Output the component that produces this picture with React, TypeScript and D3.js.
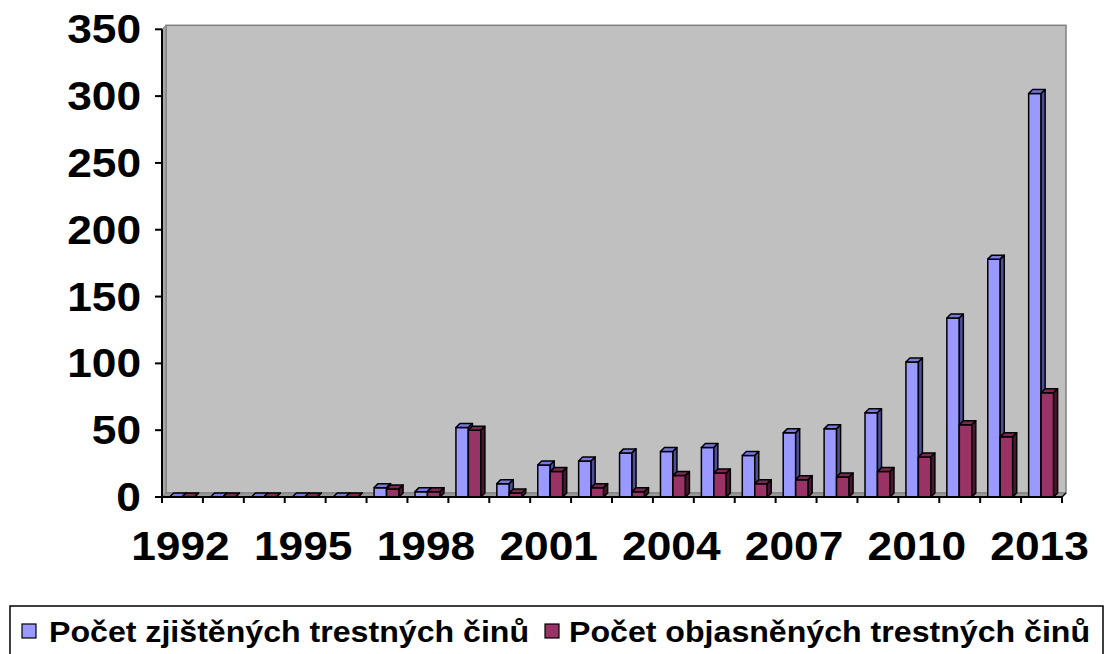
import React from "react";
import * as d3 from "d3";

// years on the x axis
const years = d3.range(1992, 2014).map(String);
const labelYears = ["1992", "1995", "1998", "2001", "2004", "2007", "2010", "2013"];
const yTicks = [0, 50, 100, 150, 200, 250, 300, 350];

// Počet zjištěných trestných činů
const detected = [0, 0, 0, 0, 0, 7, 4, 52, 10, 24, 27, 33, 34, 37, 31, 48, 51, 63, 101, 134, 178, 302];
// Počet objasněných trestných činů
const solved = [0, 0, 0, 0, 0, 6, 4, 50, 3, 19, 7, 4, 16, 18, 10, 13, 15, 19, 30, 54, 45, 78];

const seriesNames = ["Počet zjištěných trestných činů", "Počet objasněných trestných činů"];

const font = "'Liberation Sans', Arial, sans-serif";
const SX = 1.08; // text in the reference is a bit wider than plain Arial

const App = () => {
  const width = 1105;
  const height = 654;
  const left = 162;
  const right = 1062;
  const top = 29.3;
  const bottom = 497;
  const dx = 4;
  const dy = 4;

  const x = d3.scaleBand().domain(years).range([left, right]).paddingInner(0).paddingOuter(0);
  const y = d3.scaleLinear().domain([0, 350]).range([bottom, top]);
  const cw = x.bandwidth();
  const gap = cw * 0.185;
  const bw = cw * 0.305;

  const series = [
    { values: detected, front: "#9999FF", top: "#7A7ADB", side: "#4F4F99" },
    { values: solved, front: "#993366", top: "#7A2952", side: "#4A1631" },
  ];

  const bar = (x0: number, v: number, s: typeof series[0], key: string) => {
    const yt = y(v);
    const x1 = x0 + bw;
    return (
      <g key={key} stroke="#000" strokeWidth={1.5} strokeLinejoin="round">
        <rect x={x0} y={yt} width={bw} height={bottom - yt} fill={s.front} />
        <polygon
          points={`${x0},${yt} ${x0 + dx},${yt - dy} ${x1 + dx},${yt - dy} ${x1},${yt}`}
          fill={s.top}
        />
        <polygon
          points={`${x1},${yt} ${x1 + dx},${yt - dy} ${x1 + dx},${bottom - dy} ${x1},${bottom}`}
          fill={s.side}
        />
      </g>
    );
  };

  return (
    <svg width={width} height={height} style={{ position: "absolute", left: 0, top: 0, background: "#fff" }}>
      {/* back wall */}
      <rect x={left + dx} y={top - dy} width={right - left} height={bottom - top} fill="#C0C0C0" stroke="#808080" strokeWidth={1.5} />
      {/* side wall */}
      <polygon
        points={`${left},${bottom} ${left},${top} ${left + dx},${top - dy} ${left + dx},${bottom - dy}`}
        fill="#A6A6A6"
        stroke="#808080"
        strokeWidth={1}
      />
      {/* floor */}
      <polygon
        points={`${left},${bottom} ${right},${bottom} ${right + dx},${bottom - dy} ${left + dx},${bottom - dy}`}
        fill="#999999"
        stroke="#808080"
        strokeWidth={1}
      />

      {/* bars */}
      {years.map((yr, i) => {
        const x0 = (x(yr) as number) + gap;
        return (
          <g key={yr}>
            {bar(x0, series[0].values[i], series[0], "a")}
            {bar(x0 + bw, series[1].values[i], series[1], "b")}
          </g>
        );
      })}

      {/* axes */}
      <line x1={left} x2={left} y1={top} y2={bottom} stroke="#000" strokeWidth={2} />
      <line x1={left} x2={right} y1={bottom} y2={bottom} stroke="#000" strokeWidth={2} />
      <line x1={right} x2={right + dx} y1={bottom} y2={bottom - dy} stroke="#000" strokeWidth={1.5} />
      {yTicks.map((t) => (
        <g key={t}>
          <line x1={left - 7} x2={left} y1={y(t)} y2={y(t)} stroke="#000" strokeWidth={2} />
          <text
            transform={`translate(141,${y(t) + 14}) scale(${SX},1)`}
            textAnchor="end"
            fontFamily={font}
            fontWeight="bold"
            fontSize={41}
          >
            {t}
          </text>
        </g>
      ))}
      {years.concat(["end"]).map((yr, i) => {
        const xx = left + i * cw;
        return <line key={yr} x1={xx} x2={xx} y1={bottom} y2={bottom + 6} stroke="#000" strokeWidth={2} />;
      })}
      {labelYears.map((yr) => (
        <text
          key={yr}
          transform={`translate(${(x(yr) as number) + cw / 2 - 2},560) scale(${SX},1)`}
          textAnchor="middle"
          fontFamily={font}
          fontWeight="bold"
          fontSize={41}
        >
          {yr}
        </text>
      ))}

      {/* legend */}
      <rect x={10} y={606} width={1093} height={60} fill="#fff" stroke="#000" strokeWidth={1.5} />
      {[
        { x: 22, tx: 49, name: seriesNames[0], fill: series[0].front },
        { x: 545, tx: 569, name: seriesNames[1], fill: series[1].front },
      ].map((d) => (
        <g key={d.name}>
          <rect x={d.x} y={624} width={14} height={14} fill={d.fill} stroke="#000" strokeWidth={1.2} />
          <text
            transform={`translate(${d.tx},642) scale(1.1,1)`}
            fontFamily={font}
            fontWeight="bold"
            fontSize={29.2}
          >
            {d.name}
          </text>
        </g>
      ))}
    </svg>
  );
};

export default App;
